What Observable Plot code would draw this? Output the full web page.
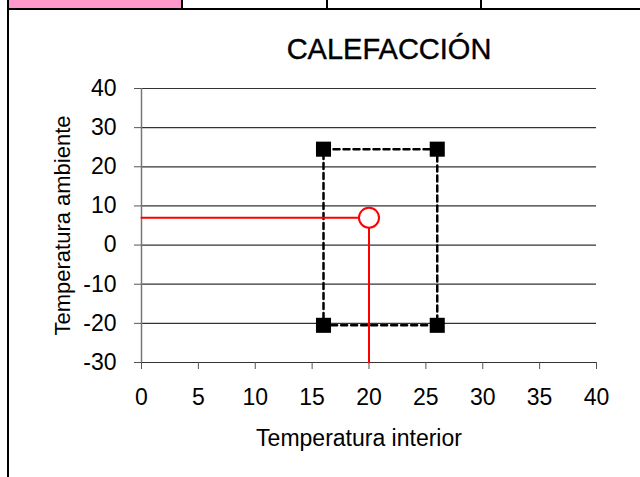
<!DOCTYPE html>
<html>
<head>
<meta charset="utf-8">
<script src="https://cdn.jsdelivr.net/npm/d3@7"></script>
<script src="https://cdn.jsdelivr.net/npm/@observablehq/plot@0.6"></script>
<style>
  html, body { margin: 0; padding: 0; background: #fff; }
  #wrap { position: relative; width: 640px; height: 477px; overflow: hidden; font-family: "Liberation Sans", Arial, sans-serif; }
  #wrap svg { position: absolute; left: 0; top: 0; }
  .deco { position: absolute; }
</style>
</head>
<body>
<div id="wrap">
  <div class="deco" style="left:9px;top:0;width:173px;height:8px;background:#ff99cc"></div>
  <div class="deco" style="left:7px;top:0;width:2px;height:477px;background:#000"></div>
  <div class="deco" style="left:7px;top:8px;width:633px;height:2px;background:#000"></div>
  <div class="deco" style="left:181px;top:0;width:2px;height:9px;background:#000"></div>
  <div class="deco" style="left:326px;top:0;width:2px;height:9px;background:#000"></div>
  <div class="deco" style="left:480px;top:0;width:2px;height:9px;background:#000"></div>
</div>
<script>
const chartTitle = "CALEFACCIÓN";
const xLabel = "Temperatura interior";
const yLabel = "Temperatura ambiente";
const xTicks = [0, 5, 10, 15, 20, 25, 30, 35, 40];
const yTicks = [-30, -20, -10, 0, 10, 20, 30, 40];
const boxX = [16, 26];
const boxY = [-20.5, 24.5];
const pointX = [20];
const pointY = [7];

const corners = [
  {x: boxX[0], y: boxY[1]},
  {x: boxX[1], y: boxY[1]},
  {x: boxX[1], y: boxY[0]},
  {x: boxX[0], y: boxY[0]},
  {x: boxX[0], y: boxY[1]}
];
const op = {x: pointX[0], y: pointY[0]};
const fmt = d => String(d);

const chart = Plot.plot({
  width: 640,
  height: 477,
  marginLeft: 141,
  marginRight: 44,
  marginTop: 88,
  marginBottom: 115,
  style: {fontFamily: "'Liberation Sans', Arial, sans-serif", background: "transparent", overflow: "visible"},
  x: {domain: [0, 40]},
  y: {domain: [-30, 40]},
  marks: [
    Plot.ruleY(yTicks, {x1: 0, x2: 40, stroke: "#333", strokeWidth: 1.2}),
    Plot.ruleX([0], {y1: -30, y2: 40, stroke: "#777", strokeWidth: 1.5}),
    Plot.axisY({ticks: yTicks, tickFormat: fmt, tickSize: 7, tickPadding: 18, fontSize: 23, stroke: "#555", color: "#000", label: null}),
    Plot.axisX({ticks: xTicks, tickFormat: fmt, tickSize: 7, tickPadding: 19, fontSize: 23, stroke: "#555", color: "#000", label: null}),
    Plot.line(corners, {x: "x", y: "y", stroke: "#000", strokeWidth: 2.5, strokeDasharray: "6,4"}),
    Plot.dot(corners.slice(0, 4), {x: "x", y: "y", symbol: "square", r: 8.5, fill: "#000", stroke: "none"}),
    Plot.line([{x: 0, y: op.y}, op], {x: "x", y: "y", stroke: "#ff0000", strokeWidth: 2}),
    Plot.line([op, {x: op.x, y: -30}], {x: "x", y: "y", stroke: "#ff0000", strokeWidth: 2}),
    Plot.dot([op], {x: "x", y: "y", r: 10, fill: "#fff", stroke: "#ff0000", strokeWidth: 2}),
    Plot.text([chartTitle], {frameAnchor: "top", lineAnchor: "middle", dx: 20, dy: -39, fontSize: 29, fill: "#000", stroke: "#000", strokeWidth: 0.4}),
    Plot.text([xLabel], {frameAnchor: "bottom", lineAnchor: "middle", dx: -10, dy: 76, fontSize: 23, fill: "#000"}),
    Plot.text([yLabel], {frameAnchor: "left", textAnchor: "middle", lineAnchor: "middle", dx: -79, rotate: -90, fontSize: 22, fill: "#000"})
  ]
});
document.getElementById("wrap").appendChild(chart);
</script>
</body>
</html>
